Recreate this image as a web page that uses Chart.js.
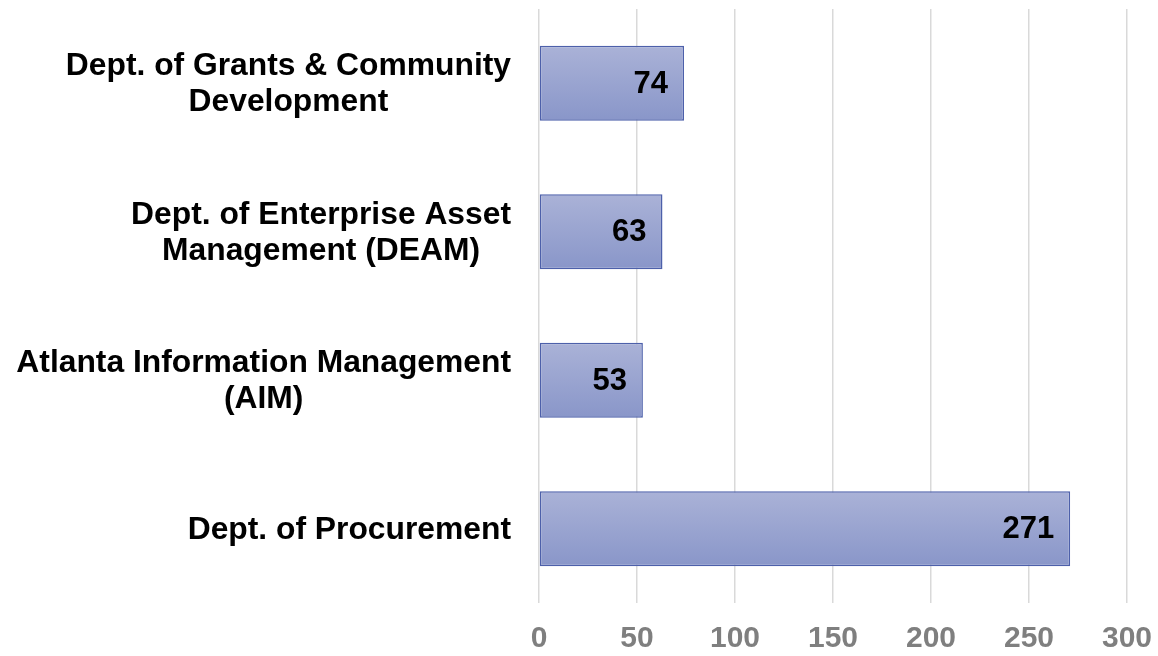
<!DOCTYPE html>
<html>
<head>
<meta charset="utf-8">
<script src="https://cdn.jsdelivr.net/npm/chart.js@4"></script>
<style>
  html, body { margin: 0; padding: 0; background: #fff; }
  #wrap { width: 1158px; height: 656px; }
</style>
</head>
<body>
<div id="wrap"><canvas id="deptChart" width="1158" height="656"></canvas></div>
<script>
// Categories (top to bottom) and their counts
const departments = [
    ['Dept. of Grants & Community', 'Development'],
    ['Dept. of Enterprise Asset', 'Management (DEAM)'],
    ['Atlanta Information Management', '(AIM)'],
    ['Dept. of Procurement']
];
const counts = [74, 63, 53, 271];
const axisMax = 300;
const axisStep = 50;

const FONT = '"Liberation Sans", Arial, sans-serif';
const BAR_PCT = 0.505;

// per-bar vertical gradient, worked out from the category scale
function barGradient(context) {
    const chart = context.chart;
    const ys = chart.scales.y;
    if (!chart.chartArea || !ys || context.dataIndex === undefined) return '#9aa5d0';
    const yc = ys.getPixelForValue(context.dataIndex);
    const half = ys.height / departments.length * BAR_PCT / 2;
    const g = chart.ctx.createLinearGradient(0, yc - half, 0, yc + half);
    g.addColorStop(0, '#aab2d7');
    g.addColorStop(1, '#8996c9');
    return g;
}

// value near the end of each bar + category labels (lines centred, block right-aligned)
const textLayer = {
    id: 'textLayer',
    afterDatasetsDraw(chart) {
        const c = chart.ctx;
        const meta = chart.getDatasetMeta(0);
        const yScale = chart.scales.y;
        c.save();
        c.fillStyle = '#000';
        c.textBaseline = 'middle';

        c.font = 'bold 31px ' + FONT;
        c.textAlign = 'right';
        meta.data.forEach((bar, i) => {
            c.fillText(String(counts[i]), bar.x - 16, bar.y + 1);
        });

        c.font = 'bold 31.8px ' + FONT;
        c.textAlign = 'center';
        const lineH = 36;
        departments.forEach((lines, i) => {
            const yc = yScale.getPixelForTick(i) + 1;
            const w = Math.max(...lines.map(l => c.measureText(l).width));
            const xc = 511 - w / 2;
            const y0 = yc - (lines.length - 1) * lineH / 2;
            lines.forEach((l, k) => c.fillText(l, xc, y0 + k * lineH));
        });
        c.restore();
    }
};

const ctx = document.getElementById('deptChart').getContext('2d');
const deptChart = new Chart(ctx, {
    type: 'bar',
    data: {
        labels: departments,
        datasets: [{
            data: counts,
            backgroundColor: barGradient,
            borderColor: '#4d60aa',
            borderWidth: 1.5,
            borderSkipped: false,
            barPercentage: BAR_PCT,
            categoryPercentage: 1
        }]
    },
    options: {
        indexAxis: 'y',
        responsive: false,
        animation: false,
        layout: { padding: { top: 9, right: 31, bottom: 0, left: 0 } },
        plugins: {
            legend: { display: false },
            tooltip: { enabled: false }
        },
        scales: {
            x: {
                min: 0,
                max: axisMax,
                ticks: {
                    stepSize: axisStep,
                    padding: 18,
                    color: '#7f7f7f',
                    font: { family: FONT, size: 30, weight: 'bold' }
                },
                grid: { color: '#d9d9d9', lineWidth: 1.5, drawTicks: false },
                border: { display: false },
                afterFit(scale) {
                    scale.height = 53;
                    scale.paddingLeft = 0;
                    scale.paddingRight = 0;
                }
            },
            y: {
                ticks: { display: false },
                grid: { display: false },
                border: { display: false },
                afterFit(scale) {
                    scale.width = 539;
                    scale.paddingTop = 0;
                    scale.paddingBottom = 0;
                }
            }
        }
    },
    plugins: [textLayer]
});
</script>
</body>
</html>
